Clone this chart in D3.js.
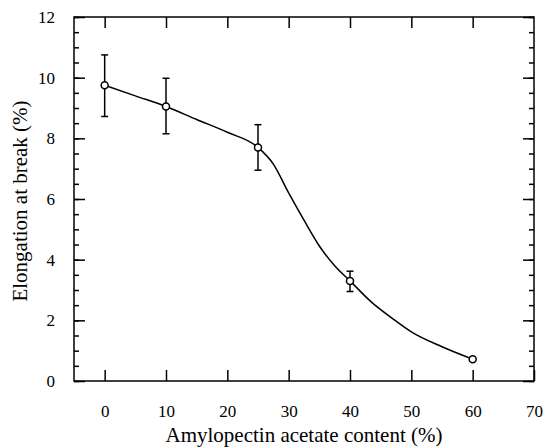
<!DOCTYPE html>
<html>
<head>
<meta charset="utf-8">
<script src="https://cdn.jsdelivr.net/npm/d3@7"></script>
<style>
  body { margin: 0; background: #fff; }
</style>
</head>
<body>
<div id="vis"></div>
<script>
// measured points (amylopectin acetate %, elongation %)
const contents = [0, 10, 25, 40, 60];
const elongation = [9.75, 9.05, 7.7, 3.3, 0.72];
const errLow = [8.72, 8.15, 6.95, 2.95, 0.72];
const errHigh = [10.75, 9.98, 8.45, 3.62, 0.72];

// hand-drawn fit line
const fitX = [0, 5, 10, 15, 20, 25, 27.5, 30, 32.5, 35, 37.5, 40, 43.5, 47, 50, 55, 60];
const fitY = [9.75, 9.4, 9.05, 8.62, 8.2, 7.7, 7.15, 6.2, 5.3, 4.45, 3.8, 3.3, 2.6, 2.05, 1.62, 1.13, 0.72];

const xTicks = [0, 10, 20, 30, 40, 50, 60, 70];
const yTicks = [0, 2, 4, 6, 8, 10, 12];
const yMinor = d3.range(0, 12.01, 0.5);

var FONT = "'Liberation Serif'";
var width = 546, height = 448;
var margin = { left: 74, right: 12, top: 17, bottom: 67 };
var w = width - margin.left - margin.right;
var h = height - margin.top - margin.bottom;

var svg = d3.select("#vis").append("svg")
  .attr("width", width)
  .attr("height", height);
var g = svg.append("g")
  .attr("transform", "translate(" + margin.left + "," + margin.top + ")");

var x = d3.scaleLinear().domain([-5, 70]).range([0, w]);
var y = d3.scaleLinear().domain([0, 12]).range([h, 0]);

// frame
g.append("rect")
  .attr("width", w).attr("height", h)
  .attr("fill", "none").attr("stroke", "#000").attr("stroke-width", 1.5);

// bottom axis, ticks pointing in
var xb = g.append("g")
  .attr("transform", "translate(0," + h + ")")
  .call(d3.axisBottom(x).tickValues(xTicks).tickSizeInner(-11).tickSizeOuter(0).tickPadding(24));
// top ticks
var xt = g.append("g")
  .call(d3.axisTop(x).tickValues(xTicks.slice(0, -1)).tickSizeInner(-11).tickSizeOuter(0).tickFormat(""));

// left axis: minor + major
var yl = g.append("g")
  .call(d3.axisLeft(y).tickValues(yMinor).tickSizeInner(-5).tickSizeOuter(0).tickFormat(""));
var yl2 = g.append("g")
  .call(d3.axisLeft(y).tickValues(yTicks).tickSizeInner(-11).tickSizeOuter(0).tickPadding(19));
// right axis
var yr = g.append("g").attr("transform", "translate(" + w + ",0)")
  .call(d3.axisRight(y).tickValues(yMinor).tickSizeInner(-5).tickSizeOuter(0).tickFormat(""));
var yr2 = g.append("g").attr("transform", "translate(" + w + ",0)")
  .call(d3.axisRight(y).tickValues(yTicks).tickSizeInner(-11).tickSizeOuter(0).tickFormat(""));

[xb, xt, yl, yl2, yr, yr2].forEach(function (a) {
  a.attr("font-family", null);
  a.select(".domain").remove();
  a.selectAll("line").attr("stroke", "#000").attr("stroke-width", 1.5);
  a.selectAll("text").style("font-family", FONT).attr("font-size", 17).attr("fill", "#000");
});

// fitted curve
var fit = fitX.map(function (d, i) { return [d, fitY[i]]; });
g.append("path")
  .datum(fit)
  .attr("fill", "none")
  .attr("stroke", "#000")
  .attr("stroke-width", 1.5)
  .attr("d", d3.line()
    .x(function (d) { return x(d[0]); })
    .y(function (d) { return y(d[1]); })
    .curve(d3.curveMonotoneX));

// error bars
var pts = contents.map(function (c, i) {
  return { x: c, y: elongation[i], lo: errLow[i], hi: errHigh[i] };
});
var eb = g.selectAll(".err").data(pts.filter(function (d) { return d.hi > d.lo; }))
  .enter().append("g").attr("class", "err")
  .attr("stroke", "#000").attr("stroke-width", 1.5);
eb.append("line")
  .attr("x1", function (d) { return x(d.x); }).attr("x2", function (d) { return x(d.x); })
  .attr("y1", function (d) { return y(d.lo); }).attr("y2", function (d) { return y(d.hi); });
eb.append("line")
  .attr("x1", function (d) { return x(d.x) - 3.5; }).attr("x2", function (d) { return x(d.x) + 3.5; })
  .attr("y1", function (d) { return y(d.lo); }).attr("y2", function (d) { return y(d.lo); });
eb.append("line")
  .attr("x1", function (d) { return x(d.x) - 3.5; }).attr("x2", function (d) { return x(d.x) + 3.5; })
  .attr("y1", function (d) { return y(d.hi); }).attr("y2", function (d) { return y(d.hi); });

// markers
g.selectAll(".pt").data(pts).enter().append("circle")
  .attr("class", "pt")
  .attr("cx", function (d) { return x(d.x); })
  .attr("cy", function (d) { return y(d.y); })
  .attr("r", 3.5)
  .attr("fill", "#fff")
  .attr("stroke", "#000")
  .attr("stroke-width", 1.5);

// axis titles
svg.append("text")
  .attr("x", margin.left + x(32.5))
  .attr("y", 442)
  .attr("text-anchor", "middle")
  .style("font-family", FONT)
  .attr("font-size", 21)
  .text("Amylopectin acetate content (%)");

svg.append("text")
  .attr("transform", "translate(27,201) rotate(-90)")
  .attr("text-anchor", "middle")
  .style("font-family", FONT)
  .attr("font-size", 21)
  .text("Elongation at break (%)");
</script>
</body>
</html>
